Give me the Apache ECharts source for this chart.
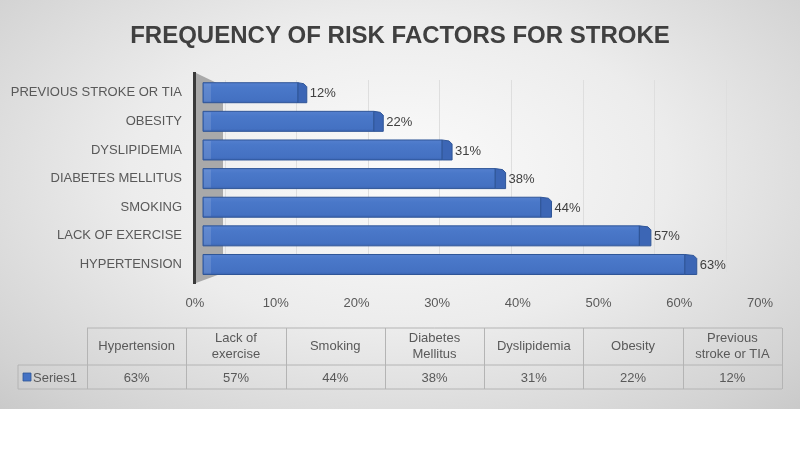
<!DOCTYPE html>
<html><head><meta charset="utf-8">
<script src="https://cdn.jsdelivr.net/npm/echarts@6/dist/echarts.min.js"></script>
<style>
html,body{margin:0;padding:0;background:#fff;}
#c{width:800px;height:449px;background:radial-gradient(ellipse 75% 85% at 50% 42%, #fbfbfb 0%, #ececec 45%, #d2d2d2 85%, #c6c6c6 100%) top left / 800px 409px no-repeat, #ffffff;}
</style></head>
<body><div id="c"></div>
<script>
const titleText = 'FREQUENCY OF RISK FACTORS FOR STROKE';
const categories = ['Hypertension','Lack of exercise','Smoking','Diabetes Mellitus','Dyslipidemia','Obesity','Previous stroke or TIA'];
const tableHeaders = ['Hypertension','Lack of\nexercise','Smoking','Diabetes\nMellitus','Dyslipidemia','Obesity','Previous\nstroke or TIA'];
const values = [63,57,44,38,31,22,12];
const seriesName = 'Series1';
const xMin = 0, xMax = 70, xStep = 10;

const chart = echarts.init(document.getElementById('c'), null, {renderer:'canvas'});
const txt = '#595959';
const font = 'Liberation Sans, Arial, sans-serif';

// table layout
const tL = 18, tC = 87, tR = 782, tTop = 328, tMid = 365, tBot = 389;
const colW = (tR - tC) / categories.length;
const border = '#b4b4b4';
const graphics = [];
// left wall
graphics.push({type:'polygon', shape:{points:[[196,73],[223,86],[223,273],[196,283]]}, style:{fill:'#a9a9a9'}, z:1});
graphics.push({type:'rect', shape:{x:193,y:72,width:3,height:212}, style:{fill:'#3a3a3a'}, z:2});
// table lines
graphics.push({type:'line', shape:{x1:tC,y1:tTop,x2:tR,y2:tTop}, style:{stroke:border,lineWidth:1}});
graphics.push({type:'line', shape:{x1:tL,y1:tMid,x2:tR,y2:tMid}, style:{stroke:border,lineWidth:1}});
graphics.push({type:'line', shape:{x1:tL,y1:tBot,x2:tR,y2:tBot}, style:{stroke:border,lineWidth:1}});
graphics.push({type:'line', shape:{x1:tL,y1:tMid,x2:tL,y2:tBot}, style:{stroke:border,lineWidth:1}});
for (let i = 0; i <= categories.length; i++) {
  const x = Math.round(tC + i*colW) + 0.5;
  graphics.push({type:'line', shape:{x1:x,y1:tTop,x2:x,y2:tBot}, style:{stroke:border,lineWidth:1}});
}
tableHeaders.forEach((h,i)=>{
  graphics.push({type:'text', x: tC + (i+0.5)*colW, y:(tTop+tMid)/2,
    style:{text:h, fill:txt, font:'13px '+font, align:'center', verticalAlign:'middle', lineHeight:16}});
  graphics.push({type:'text', x: tC + (i+0.5)*colW, y:(tMid+tBot)/2+1,
    style:{text:values[i]+'%', fill:txt, font:'13px '+font, align:'center', verticalAlign:'middle'}});
});
graphics.push({type:'rect', shape:{x:23,y:373,width:8,height:8}, style:{fill:'#4472c4', stroke:'#2f5597', lineWidth:0.8}});
graphics.push({type:'text', x:33, y:(tMid+tBot)/2+1, style:{text:seriesName, fill:txt, font:'13px '+font, align:'left', verticalAlign:'middle'}});

const option = {
  animation:false,
  backgroundColor:'transparent',
  title:{text:titleText, left:'center', top:19, textStyle:{fontSize:24, fontWeight:'bold', color:'#404040', fontFamily:font}},
  grid:[
    {left:207, right:62, top:78.4, bottom:170.2},
    {left:195, right:40, top:78, bottom:166},
    {left:225, right:74, top:80, bottom:177}
  ],
  xAxis:[
    {gridIndex:0, type:'value', min:xMin, max:xMax, interval:xStep, axisLabel:{show:false}, axisLine:{show:false}, axisTick:{show:false}, splitLine:{show:false}},
    {gridIndex:1, type:'value', min:xMin, max:xMax, interval:xStep, axisLine:{show:false}, axisTick:{show:false}, splitLine:{show:false},
      axisLabel:{formatter:'{value}%', color:txt, fontSize:13, fontFamily:font, margin:14}},
    {gridIndex:2, type:'value', min:xMin, max:xMax, interval:xStep, axisLabel:{show:false}, axisLine:{show:false}, axisTick:{show:false},
      splitLine:{show:true, lineStyle:{color:'#dedede', width:1}}}
  ],
  yAxis:[
    {gridIndex:0, type:'category', data:categories, axisLine:{show:false}, axisTick:{show:false},
      axisLabel:{formatter:v=>v.toUpperCase(), color:txt, fontSize:13, fontFamily:font, margin:25}},
    {gridIndex:1, type:'value', show:false},
    {gridIndex:2, type:'value', show:false}
  ],
  graphic:graphics,
  series:[{
    type:'custom', xAxisIndex:0, yAxisIndex:0, z:5,
    data: values.map((v,i)=>[v,i]),
    renderItem:(params, api)=>{
      const v = api.value(0), c = api.value(1);
      const p0 = api.coord([0,c]), p1 = api.coord([v,c]);
      const yc = p0[1];
      const x0 = p0[0] - 4, x1 = p1[0];
      const top = yc - 10, bot = yc + 10;
      const dx = 8 + (x1 - x0) * 0.008, dy = 4;
      return {type:'group', children:[
        {type:'rect', shape:{x:x0,y:top,width:x1-x0,height:bot-top},
          style:{fill:new echarts.graphic.LinearGradient(0,0,0,1,[{offset:0,color:'#5580cf'},{offset:0.25,color:'#4a78c9'},{offset:0.85,color:'#4471c2'},{offset:1,color:'#3a63b0'}]), stroke:'#2f5597', lineWidth:1}},
        {type:'rect', shape:{x:x0+1,y:top+1,width:7,height:bot-top-2}, style:{fill:'rgba(255,255,255,0.12)'}},
        {type:'polygon', shape:{points:[[x1,top],[x1+dx-3,top+1],[x1+dx,top+dy],[x1+dx,bot],[x1,bot]]},
          style:{fill:'#3c66b5', stroke:'#2f5597', lineWidth:1}},
        {type:'text', x:x1+dx+3, y:yc+1, style:{text:v+'%', fill:'#404040', font:'13px '+font, align:'left', verticalAlign:'middle'}}
      ]};
    }
  }]
};
chart.setOption(option);
</script></body></html>
